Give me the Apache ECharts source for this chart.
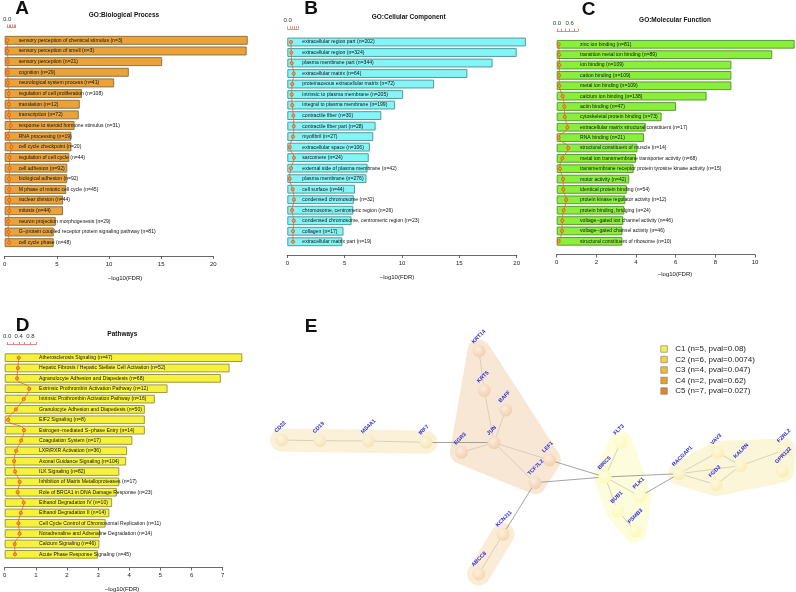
<!DOCTYPE html>
<html>
<head>
<meta charset="utf-8">
<script src="https://cdn.jsdelivr.net/npm/echarts@6/dist/echarts.min.js"></script>
<style>html,body{margin:0;padding:0;background:#fff}#chart{width:796px;height:592px}</style>
</head>
<body>
<div id="chart"></div>
<script>
// A: GO biological process
var bpTerms = ["sensory perception of chemical stimulus (n=3)", "sensory perception of smell (n=3)", "sensory perception (n=21)", "cognition (n=29)", "neurological system process (n=41)", "regulation of cell proliferation (n=108)", "translation (n=12)", "transcription (n=72)", "response to steroid hormone stimulus (n=31)", "RNA processing (n=19)", "cell cycle checkpoint (n=20)", "regulation of cell cycle (n=44)", "cell adhesion (n=92)", "biological adhesion (n=92)", "M phase of mitotic cell cycle (n=45)", "nuclear division (n=44)", "mitosis (n=44)", "neuron projection morphogenesis (n=29)", "G\u2212protein coupled receptor protein signaling pathway (n=81)", "cell cycle phase (n=48)"];
var bpFdr = [23.3, 23.2, 15.1, 11.9, 10.5, 7.4, 7.2, 7.1, 6.7, 6.4, 6.4, 6.2, 6.0, 6.0, 5.9, 5.6, 5.6, 4.9, 4.7, 4.7];
var bpRatio = [0.01, 0.03, 0.08, 0.08, 0.08, 0.2, 0.2, 0.22, 0.42, 0.08, 0.5, 0.28, 0.28, 0.22, 0.25, 0.25, 0.25, 0.12, 0.14, 0.25];

// B: GO cellular component
var ccTerms = ["extracellular region part (n=202)", "extracellular region (n=324)", "plasma membrane part (n=344)", "extracellular matrix (n=64)", "proteinaceous extracellular matrix (n=72)", "intrinsic to plasma membrane (n=205)", "integral to plasma membrane (n=199)", "contractile fiber (n=30)", "contractile fiber part (n=28)", "myofibril (n=27)", "extracellular space (n=106)", "sarcomere (n=24)", "external side of plasma membrane (n=42)", "plasma membrane (n=276)", "cell surface (n=44)", "condensed chromosome (n=32)", "chromosome, centromeric region (n=26)", "condensed chromosome, centromeric region (n=23)", "collagen (n=17)", "extracellular matrix part (n=19)"];
var ccFdr = [20.8, 20.0, 17.9, 15.7, 12.8, 10.1, 9.4, 8.2, 7.7, 7.5, 7.2, 7.1, 7.0, 6.9, 5.9, 5.8, 5.75, 5.6, 4.9, 4.8];
var ccRatio = [0.31, 0.34, 0.38, 0.57, 0.43, 0.38, 0.43, 0.53, 0.57, 0.5, 0.19, 0.59, 0.31, 0.19, 0.47, 0.59, 0.41, 0.57, 0.5, 0.5];

// C: GO molecular function
var mfTerms = ["zinc ion binding (n=81)", "transition metal ion binding (n=89)", "ion binding (n=109)", "cation binding (n=109)", "metal ion binding (n=109)", "calcium ion binding (n=138)", "actin binding (n=47)", "cytoskeletal protein binding (n=73)", "extracellular matrix structural constituent (n=17)", "RNA binding (n=21)", "structural constituent of muscle (n=14)", "metal ion transmembrane transporter activity (n=68)", "transmembrane receptor protein tyrosine kinase activity (n=15)", "motor activity (n=42)", "identical protein binding (n=54)", "protein kinase regulator activity (n=12)", "protein binding, bridging (n=24)", "voltage\u2212gated ion channel activity (n=46)", "voltage\u2212gated channel activity (n=46)", "structural constituent of ribosome (n=10)"];
var mfFdr = [12.0, 10.87, 8.81, 8.81, 8.81, 7.56, 6.02, 5.29, 4.49, 4.4, 4.07, 4.0, 3.88, 3.66, 3.53, 3.46, 3.41, 3.36, 3.31, 3.31];
var mfRatio = [0.08, 0.1, 0.11, 0.1, 0.11, 0.27, 0.35, 0.37, 0.5, 0.08, 0.54, 0.25, 0.14, 0.29, 0.3, 0.44, 0.32, 0.25, 0.24, 0.08];

// D: pathways
var pwTerms = ["Atherosclerosis Signaling (n=47)", "Hepatic Fibrosis / Hepatic Stellate Cell Activation (n=52)", "Agranulocyte Adhesion and Diapedesis (n=68)", "Extrinsic Prothrombin Activation Pathway (n=12)", "Intrinsic Prothrombin Activation Pathway (n=16)", "Granulocyte Adhesion and Diapedesis (n=50)", "EIF2 Signaling (n=8)", "Estrogen\u2212mediated S\u2212phase Entry (n=14)", "Coagulation System (n=17)", "LXR/RXR Activation (n=36)", "Axonal Guidance Signaling (n=104)", "ILK Signaling (n=82)", "Inhibition of Matrix Metalloproteases (n=17)", "Role of BRCA1 in DNA Damage Response (n=23)", "Ethanol Degradation IV (n=10)", "Ethanol Degradation II (n=14)", "Cell Cycle Control of Chromosomal Replication (n=11)", "Noradrenaline and Adrenaline Degradation (n=14)", "Calcium Signaling (n=46)", "Acute Phase Response Signaling (n=45)"];
var pwFdr = [7.63, 7.22, 6.94, 5.23, 4.82, 4.5, 4.5, 4.5, 4.1, 3.93, 3.9, 3.68, 3.68, 3.6, 3.45, 3.36, 3.24, 3.06, 3.04, 2.99];
var pwRatio = [0.4, 0.37, 0.34, 0.76, 0.57, 0.3, 0.03, 0.58, 0.48, 0.31, 0.24, 0.27, 0.43, 0.36, 0.57, 0.47, 0.39, 0.43, 0.26, 0.27];

// E: network
var nodeNames = ["CD22", "CD19", "MS4A1", "IRF7", "KRT14", "KRT5", "BAFF", "EGR3", "JUN", "LEF1", "TCF7L2", "KCNJ11", "ABCC8", "FLT3", "BIRC5", "PLK1", "BUB1", "PSMB3", "RACGAP1", "VAV3", "FGD3", "KALRN", "FZRL2", "GPR132"];
var nodeX = [281.7, 320, 368.3, 426, 479, 484.3, 505.7, 461.3, 494, 549.3, 535, 503, 478.7, 620.7, 605, 640, 617.7, 635, 679.3, 717.7, 716, 740.7, 784.3, 782.3];
var nodeY = [440, 440.7, 441, 442.3, 351, 390.3, 410, 452.3, 442.7, 460, 482.7, 534.3, 574, 442.3, 477, 496.3, 510.7, 531, 473.7, 452.3, 484.7, 465.7, 450, 471];
var nodeCluster = [2, 2, 2, 2, 4, 4, 4, 4, 4, 4, 4, 3, 3, 0, 0, 0, 0, 0, 1, 1, 1, 1, 1, 1];
var edges = [["CD22", "CD19"], ["CD19", "MS4A1"], ["MS4A1", "IRF7"], ["IRF7", "JUN"], ["KRT14", "KRT5"], ["KRT5", "JUN"], ["BAFF", "JUN"], ["EGR3", "JUN"], ["JUN", "LEF1"], ["JUN", "TCF7L2"], ["TCF7L2", "KCNJ11"], ["KCNJ11", "ABCC8"], ["LEF1", "BIRC5"], ["TCF7L2", "BIRC5"], ["FLT3", "BIRC5"], ["BIRC5", "PLK1"], ["BIRC5", "BUB1"], ["BUB1", "PSMB3"], ["BIRC5", "RACGAP1"], ["PLK1", "RACGAP1"], ["RACGAP1", "VAV3"], ["RACGAP1", "FGD3"], ["RACGAP1", "KALRN"], ["VAV3", "KALRN"], ["FGD3", "KALRN"], ["KALRN", "FZRL2"]];
var clusterNames = ["C1 (n=5, pval=0.08)", "C2 (n=6, pval=0.0074)", "C3 (n=4, pval=0.047)", "C4 (n=2, pval=0.62)", "C5 (n=7, pval=0.027)"];
var clusterColors = ["#F5F04A", "#F0D240", "#EDBB3B", "#E89E30", "#E0872E"];

var font = "Liberation Sans";
var panels = [
	{terms: bpTerms, fdr: bpFdr, ratio: bpRatio, left: 3.3, top: 35, width: 210, height: 213, max: 20, step: 5, miniLeft: 3.3, miniW: 12.4, miniShow: [0], dist: 14, fill: "#E9A33A", edge: "#8E7443"},
	{terms: ccTerms, fdr: ccFdr, ratio: ccRatio, left: 287.3, top: 36.75, width: 229.4, height: 210.25, max: 20, step: 5, miniLeft: 287.7, miniW: 10.6, miniShow: [0], dist: 15, fill: "#84F4F6", edge: "#4F9C9E"},
	{terms: mfTerms, fdr: mfFdr, ratio: mfRatio, left: 556.7, top: 39.1, width: 198.3, height: 207.4, max: 10, step: 2, miniLeft: 557, miniW: 21, miniShow: [0, 0.6], dist: 23.3, fill: "#89EF3B", edge: "#5C9A35"},
	{terms: pwTerms, fdr: pwFdr, ratio: pwRatio, left: 4.7, top: 352.5, width: 218, height: 207, max: 7, step: 1, miniLeft: 4.7, miniW: 31.5, miniShow: [0, 0.4, 0.8], dist: 34.3, fill: "#F6F23B", edge: "#9C9840"}
];

function mix(hex, w) {
	var c = [1, 3, 5].map(function(i) { return parseInt(hex.slice(i, i + 2), 16); });
	return "rgb(" + c.map(function(v) { return Math.round(v + (255 - v) * w); }).join(",") + ")";
}

function convexHull(p) {
	p = p.slice().sort(function(a, b) { return a[0] - b[0] || a[1] - b[1]; });
	function cross(o, a, b) { return (a[0] - o[0]) * (b[1] - o[1]) - (a[1] - o[1]) * (b[0] - o[0]); }
	var lo = [], up = [], i;
	for (i = 0; i < p.length; i++) {
		while (lo.length >= 2 && cross(lo[lo.length - 2], lo[lo.length - 1], p[i]) <= 0) lo.pop();
		lo.push(p[i]);
	}
	for (i = p.length - 1; i >= 0; i--) {
		while (up.length >= 2 && cross(up[up.length - 2], up[up.length - 1], p[i]) <= 0) up.pop();
		up.push(p[i]);
	}
	lo.pop(); up.pop();
	return lo.concat(up);
}

var grid = [], xAxis = [], yAxis = [], series = [];
panels.forEach(function(p, k) {
	grid.push({left: p.left, top: p.top, width: p.width, height: p.height});
	grid.push({left: p.miniLeft, top: p.top, width: p.miniW, height: p.height});
	xAxis.push({
		gridIndex: 2 * k, type: "value", min: 0, max: p.max, interval: p.step, position: "bottom", offset: 8,
		axisLine: {show: true, lineStyle: {color: "#444", width: 0.8}},
		axisTick: {show: true, length: 3, lineStyle: {color: "#444", width: 0.8}},
		axisLabel: {fontSize: 6, color: "#222", margin: 5, fontFamily: font},
		splitLine: {show: false}
	});
	xAxis.push({
		gridIndex: 2 * k + 1, type: "value", min: 0, max: 1, interval: 0.2, position: "top", offset: 8,
		axisLine: {show: true, lineStyle: {color: "#E06A6A", width: 0.8}},
		axisTick: {show: true, length: 2.5, lineStyle: {color: "#E06A6A", width: 0.8}},
		axisLabel: {fontSize: 6, color: "#333", margin: 5, fontFamily: font, showMinLabel: true, showMaxLabel: true,
			formatter: function(v) {
				return p.miniShow.some(function(s) { return Math.abs(s - v) < 1e-6; }) ? v.toFixed(1) : "";
			}},
		splitLine: {show: false}
	});
	[2 * k, 2 * k + 1].forEach(function(g) {
		yAxis.push({gridIndex: g, type: "category", data: p.terms, inverse: true, show: false});
	});
	series.push({
		type: "bar", xAxisIndex: 2 * k, yAxisIndex: 2 * k, data: p.fdr, clip: false, barCategoryGap: "16%",
		itemStyle: {color: p.fill, borderColor: p.edge, borderWidth: 1},
		label: {show: true, position: "insideLeft", distance: p.dist, formatter: "{b}", fontSize: 5.1, color: "#111", fontFamily: font}
	});
	series.push({
		type: "line", xAxisIndex: 2 * k + 1, yAxisIndex: 2 * k + 1, z: 4, smooth: true,
		data: p.ratio.map(function(v, j) { return [v, p.terms[j]]; }),
		symbol: "circle", symbolSize: 3.2,
		lineStyle: {color: "#E2622A", width: 0.8},
		itemStyle: {color: "#F4A23C", borderColor: "#E0461E", borderWidth: 0.7}
	});
});

// network panel uses a full-page grid with hidden axes
grid.push({left: 0, top: 0, width: 796, height: 592});
xAxis.push({gridIndex: 8, type: "value", min: 0, max: 796, show: false});
yAxis.push({gridIndex: 8, type: "value", min: 0, max: 592, inverse: true, show: false});

var hullR = 11.5;
clusterNames.forEach(function(name, k) {
	series.push({
		type: "custom", name: name, xAxisIndex: 8, yAxisIndex: 8, z: 1, data: [[0, 0]],
		itemStyle: {color: clusterColors[k], borderColor: "#777", borderWidth: 0.6},
		renderItem: function(params, api) {
			var pts = [];
			nodeNames.forEach(function(n, j) {
				if (nodeCluster[j] !== k) return;
				var c = api.coord([nodeX[j], nodeY[j]]);
				for (var a = 0; a < 32; a++) {
					var t = a / 32 * Math.PI * 2;
					pts.push([c[0] + hullR * Math.cos(t), c[1] + hullR * Math.sin(t)]);
				}
			});
			return {type: "polygon", shape: {points: convexHull(pts)}, style: {fill: mix(clusterColors[k], 0.8), opacity: 1}};
		}
	});
});

series.push({
	type: "graph", layout: "none", coordinateSystem: "cartesian2d", xAxisIndex: 8, yAxisIndex: 8, z: 5,
	symbolSize: 13,
	data: nodeNames.map(function(n, j) {
		var c = clusterColors[nodeCluster[j]];
		return {name: n, value: [nodeX[j], nodeY[j]], itemStyle: {color: {type: "radial", x: 0.4, y: 0.35, r: 0.7,
			colorStops: [{offset: 0, color: mix(c, 0.85)}, {offset: 1, color: mix(c, 0.58)}]}}};
	}),
	links: edges.map(function(e) {
		var inter = nodeCluster[nodeNames.indexOf(e[0])] !== nodeCluster[nodeNames.indexOf(e[1])];
		return {source: e[0], target: e[1], lineStyle: {color: inter ? "#8C8C8C" : "#CFC6B4", width: 0.8, opacity: 1}};
	}),
	label: {show: true, position: [2, 0], align: "left", verticalAlign: "bottom", rotate: 45, fontSize: 5.4, fontWeight: "bold", color: "#2B2BD9", fontFamily: font},
	emphasis: {disabled: true}
});

function txt(t, x, y, size, bold) {
	return {text: t, left: x, top: y - size / 2 + size * 0.04, textAlign: "center", padding: 0,
		textStyle: {fontSize: size, fontWeight: bold ? "bold" : "normal", color: "#111", fontFamily: font}};
}

var option = {
	animation: false,
	backgroundColor: "#fff",
	textStyle: {fontFamily: font},
	title: [
		txt("A", 22, 8, 19, true), txt("B", 311, 8.3, 19, true), txt("C", 588.5, 9.2, 19, true), txt("D", 22.5, 325.5, 19, true), txt("E", 311, 326, 19, true),
		txt("GO:Biological Process", 124, 14.7, 6.5, true), txt("GO:Cellular Component", 408.7, 16.3, 6.5, true),
		txt("GO:Molecular Function", 675, 19.7, 6.5, true), txt("Pathways", 122.3, 333.3, 6.5, true),
		txt("\u2212log10(FDR)", 125, 278, 6), txt("\u2212log10(FDR)", 397, 276.7, 6), txt("\u2212log10(FDR)", 675, 274.3, 6), txt("\u2212log10(FDR)", 122, 589, 6)
	],
	legend: {
		data: clusterNames, orient: "vertical", left: 655.5, top: 340, itemWidth: 6.5, itemHeight: 6.5, itemGap: 2.5,
		icon: "rect", selectedMode: false,
		itemStyle: {borderColor: "#777", borderWidth: 0.6},
		textStyle: {fontSize: 8, color: "#222", fontFamily: font, padding: [0, 0, 0, 3]}
	},
	grid: grid,
	xAxis: xAxis,
	yAxis: yAxis,
	series: series
};

echarts.init(document.getElementById("chart")).setOption(option);
</script>
</body>
</html>
